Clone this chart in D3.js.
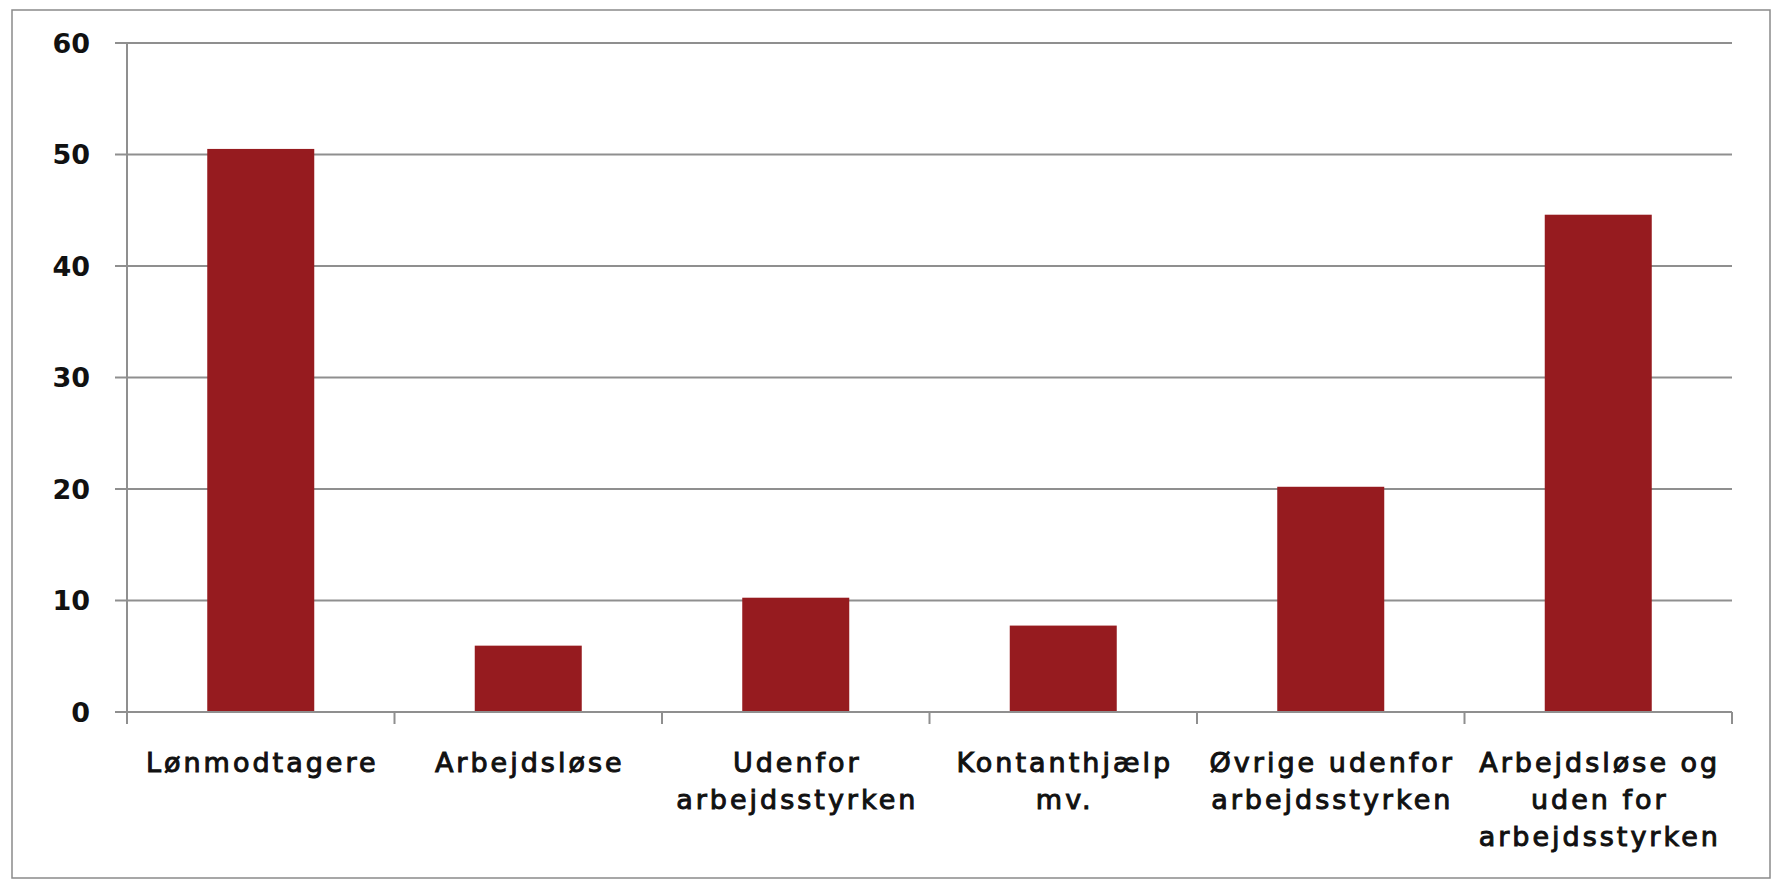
<!DOCTYPE html>
<html>
<head>
<meta charset="utf-8">
<script src="https://cdn.jsdelivr.net/npm/d3@7"></script>
<style>
  html, body { margin: 0; padding: 0; background: #fff; }
  svg { display: block; }
</style>
</head>
<body>
<svg id="chart" width="1775" height="883"></svg>
<script>
const categories = ["Lønmodtagere", "Arbejdsløse", "Udenfor arbejdsstyrken", "Kontanthjælp mv.", "Øvrige udenfor arbejdsstyrken", "Arbejdsløse og uden for arbejdsstyrken"];
const categoryLines = [["Lønmodtagere"], ["Arbejdsløse"], ["Udenfor", "arbejdsstyrken"], ["Kontanthjælp", "mv."], ["Øvrige udenfor", "arbejdsstyrken"], ["Arbejdsløse og", "uden for", "arbejdsstyrken"]];
const values = [50.5, 5.95, 10.25, 7.75, 20.2, 44.6];
const yTicks = [0, 10, 20, 30, 40, 50, 60];

(function () {
const svg = d3.select("#chart");
const mLeft = 127, mRight = 1732, mTop = 43, mBottom = 712;
const gridColor = "#8f8f8f";
const barColor = "#961b1f";
const font = "'DejaVu Sans', sans-serif";

// outer frame
svg.append("rect")
  .attr("x", 12).attr("y", 10)
  .attr("width", 1758).attr("height", 868)
  .attr("fill", "#fff")
  .attr("stroke", "#8a8a8a").attr("stroke-width", 1.5);

const x = d3.scaleBand().domain(categories).range([mLeft, mRight]).paddingInner(0).paddingOuter(0);
const y = d3.scaleLinear().domain([0, 60]).range([mBottom, mTop]);

// gridlines (extend outward as tick marks)
svg.append("g").selectAll("line").data(yTicks).join("line")
  .attr("x1", mLeft - 12).attr("x2", mRight)
  .attr("y1", d => y(d)).attr("y2", d => y(d))
  .attr("stroke", gridColor).attr("stroke-width", 2);

// y labels
svg.append("g").selectAll("text").data(yTicks).join("text")
  .attr("x", 90).attr("y", d => y(d))
  .attr("text-anchor", "end").attr("dominant-baseline", "central")
  .attr("font-family", font).attr("font-weight", "bold").attr("font-size", 27)
  .attr("fill", "#111")
  .text(d => d);

// bars
const bw = x.bandwidth() * 0.4;
svg.append("g").selectAll("rect").data(values).join("rect")
  .attr("x", (d, i) => x(categories[i]) + (x.bandwidth() - bw) / 2)
  .attr("width", bw)
  .attr("y", d => y(d))
  .attr("height", d => y(0) - y(d))
  .attr("fill", barColor);

// y axis line
svg.append("line")
  .attr("x1", mLeft).attr("x2", mLeft)
  .attr("y1", y(60)).attr("y2", y(0) + 12)
  .attr("stroke", gridColor).attr("stroke-width", 2);

// x axis line
svg.append("line")
  .attr("x1", mLeft).attr("x2", mRight)
  .attr("y1", y(0)).attr("y2", y(0))
  .attr("stroke", gridColor).attr("stroke-width", 2);

// x tick marks at band boundaries
const boundaries = categories.map(c => x(c)).concat([x(categories[categories.length - 1]) + x.bandwidth()]);
svg.append("g").selectAll("line").data(boundaries).join("line")
  .attr("x1", d => d).attr("x2", d => d)
  .attr("y1", y(0)).attr("y2", y(0) + 12)
  .attr("stroke", gridColor).attr("stroke-width", 2);

// x labels
const ls = 3;
const lbl = svg.append("g").selectAll("text").data(categoryLines).join("text")
  .attr("text-anchor", "middle")
  .attr("font-family", font).attr("font-weight", "normal").attr("font-size", 27)
  .attr("letter-spacing", ls)
  .attr("fill", "#111").attr("stroke", "#111").attr("stroke-width", 1.0)
  .attr("paint-order", "stroke");
lbl.each(function (lines, i) {
  const cx = x(categories[i]) + x.bandwidth() / 2;
  d3.select(this).selectAll("tspan").data(lines).join("tspan")
    .attr("x", cx + ls / 2)
    .attr("y", (d, j) => 772 + j * 37)
    .text(d => d);
});
})();
</script>
</body>
</html>
